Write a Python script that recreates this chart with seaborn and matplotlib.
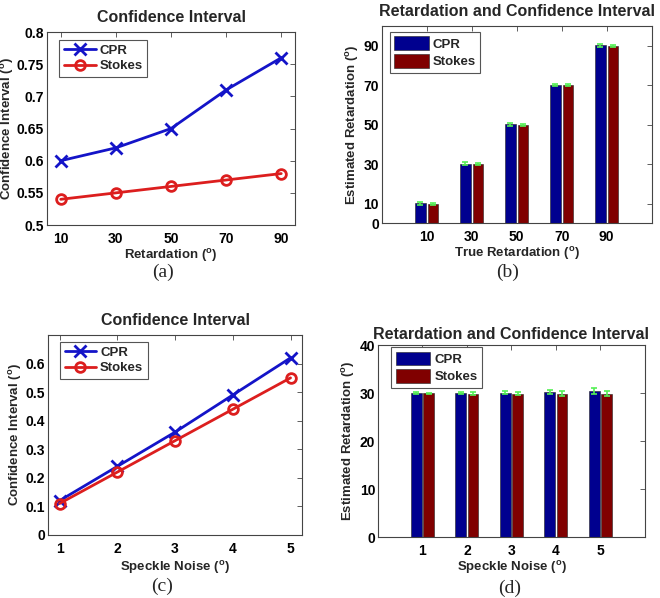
import seaborn as sns
import matplotlib.pyplot as plt
import pandas as pd

# (a) confidence interval vs retardation
retard = [10, 30, 50, 70, 90]
ci_cpr_a = [0.60, 0.62, 0.65, 0.71, 0.76]
ci_stokes_a = [0.54, 0.55, 0.56, 0.57, 0.58]

# (b) estimated retardation vs true retardation
true_retard = ['10', '30', '50', '70', '90']
est_cpr_b = [10.1, 30.2, 50.2, 70.1, 90.1]
est_stokes_b = [9.9, 29.9, 49.9, 69.9, 89.9]

# (c) confidence interval vs speckle noise
noise = [1, 2, 3, 4, 5]
ci_cpr_c = [0.12, 0.24, 0.36, 0.49, 0.62]
ci_stokes_c = [0.11, 0.22, 0.33, 0.44, 0.55]

# (d) estimated retardation vs speckle noise
noise_cat = ['1', '2', '3', '4', '5']
est_cpr_d = [30.0, 30.05, 30.1, 30.2, 30.35]
est_stokes_d = [29.95, 29.9, 29.9, 29.9, 29.9]

sns.set_style("white")
plt.rcParams['font.family'] = ['Liberation Sans', 'DejaVu Sans']
plt.rcParams['font.weight'] = 'bold'
plt.rcParams['axes.labelweight'] = 'bold'
plt.rcParams['axes.titleweight'] = 'bold'
plt.rcParams['mathtext.fontset'] = 'custom'
plt.rcParams['mathtext.rm'] = 'Liberation Sans:bold'
plt.rcParams['mathtext.bf'] = 'Liberation Sans:bold'

LINE_BLUE = '#1414c8'
LINE_RED = '#dc1e1e'
BAR_BLUE = '#00008f'
BAR_RED = '#800000'
ERR_GREEN = '#55f055'

fig = plt.figure(figsize=(6.6, 5.98), dpi=100)
ax_a = fig.add_axes([0.0712, 0.6237, 0.3758, 0.3227])
ax_b = fig.add_axes([0.5783, 0.6266, 0.409, 0.33])
ax_c = fig.add_axes([0.0727, 0.1054, 0.385, 0.3344])
ax_d = fig.add_axes([0.5727, 0.102, 0.4045, 0.321])

deg = r' ($^{\mathbf{o}}$)'


def style_axes(ax):
    for s in ax.spines.values():
        s.set_color('#444444')
        s.set_linewidth(0.8)
    ax.tick_params(direction='in', top=True, right=True, length=3.5,
                   width=0.6, colors='#444444', labelcolor='black',
                   labelsize=10, pad=2)
    ax.tick_params(axis='x', pad=5)
    for lab in ax.get_xticklabels() + ax.get_yticklabels():
        lab.set_fontweight('bold')


def line_panel(ax, x, cpr, stokes):
    sns.lineplot(x=x, y=cpr, ax=ax, color=LINE_BLUE, lw=2, marker='x',
                 markersize=8, mew=2, mec=LINE_BLUE, label='CPR')
    sns.lineplot(x=x, y=stokes, ax=ax, color=LINE_RED, lw=2, marker='o',
                 markersize=7, mew=2, mfc='none', mec=LINE_RED, label='Stokes')


def bar_panel(ax, cats, cpr, stokes, err_cpr, err_stokes):
    df = pd.DataFrame({
        'x': cats + cats,
        'y': cpr + stokes,
        'method': ['CPR'] * len(cats) + ['Stokes'] * len(cats),
    })
    sns.barplot(data=df, x='x', y='y', hue='method', ax=ax,
                palette={'CPR': BAR_BLUE, 'Stokes': BAR_RED}, saturation=1,
                width=0.56, gap=0.15, errorbar=None,
                edgecolor='#222222', linewidth=0.4)
    for cont, errs in zip(ax.containers, [err_cpr, err_stokes]):
        xs = [p.get_x() + p.get_width() / 2 for p in cont.patches]
        ys = [p.get_height() for p in cont.patches]
        ax.errorbar(xs, ys, yerr=errs, fmt='none', ecolor=ERR_GREEN,
                    elinewidth=1.2, capsize=2.5, capthick=1.2, zorder=5)
    ax.set_xlim(-1, 5)


def legend(ax, anchor, patches=False):
    kw = dict(loc='upper left', bbox_to_anchor=anchor, borderaxespad=0,
              fancybox=False, edgecolor='#555555', framealpha=1,
              prop={'size': 9.5, 'weight': 'bold'},
              handletextpad=0.3, labelspacing=0.25, borderpad=0.35)
    if patches:
        kw.update(handlelength=2.6, handleheight=1.2)
    else:
        kw.update(handlelength=2.4)
    leg = ax.legend(**kw)
    leg.get_frame().set_linewidth(0.8)


# (a)
line_panel(ax_a, retard, ci_cpr_a, ci_stokes_a)
ax_a.set_xlim(5, 95)
ax_a.set_ylim(0.5, 0.8)
ax_a.set_xticks(retard)
ax_a.set_yticks([0.5, 0.55, 0.6, 0.65, 0.7, 0.75, 0.8])
ax_a.set_yticklabels(['0.5', '0.55', '0.6', '0.65', '0.7', '0.75', '0.8'])
ax_a.set_title('Confidence Interval', fontsize=11.5, pad=7)
ax_a.set_xlabel('Retardation' + deg, fontsize=9.5, labelpad=0.5)
ax_a.set_ylabel('Confidence Interval' + deg, fontsize=9.5, labelpad=1)
legend(ax_a, (0.05, 0.96))
style_axes(ax_a)

# (b)
bar_panel(ax_b, true_retard, est_cpr_b, est_stokes_b, ci_cpr_a, ci_stokes_a)
ax_b.set_ylim(0, 100)
ax_b.set_yticks([0, 10, 30, 50, 70, 90])
ax_b.set_title('Retardation and Confidence Interval', fontsize=11.5, pad=7)
ax_b.set_xlabel('True Retardation' + deg, fontsize=9.5, labelpad=0.5)
ax_b.set_ylabel('Estimated Retardation' + deg, fontsize=9.5, labelpad=2)
legend(ax_b, (0.03, 0.97), patches=True)
style_axes(ax_b)

# (c)
line_panel(ax_c, noise, ci_cpr_c, ci_stokes_c)
ax_c.set_xlim(0.8, 5.2)
ax_c.set_ylim(0, 0.7)
ax_c.set_xticks(noise)
ax_c.set_yticks([0, 0.1, 0.2, 0.3, 0.4, 0.5, 0.6])
ax_c.set_yticklabels(['0', '0.1', '0.2', '0.3', '0.4', '0.5', '0.6'])
ax_c.set_title('Confidence Interval', fontsize=11.5, pad=7)
ax_c.set_xlabel('Speckle Noise' + deg, fontsize=9.5, labelpad=2)
ax_c.set_ylabel('Confidence Interval' + deg, fontsize=9.5, labelpad=1)
legend(ax_c, (0.047, 0.965))
style_axes(ax_c)

# (d)
bar_panel(ax_d, noise_cat, est_cpr_d, est_stokes_d, ci_cpr_c, ci_stokes_c)
ax_d.set_ylim(0, 40)
ax_d.set_yticks([0, 10, 20, 30, 40])
ax_d.set_title('Retardation and Confidence Interval', fontsize=11.5, pad=4)
ax_d.set_xlabel('Speckle Noise' + deg, fontsize=9.5, labelpad=1)
ax_d.set_ylabel('Estimated Retardation' + deg, fontsize=9.5, labelpad=2)
legend(ax_d, (0.05, 0.99), patches=True)
style_axes(ax_d)

# panel letters
serif = ['Liberation Serif', 'DejaVu Serif']
for txt, x, y in [('(a)', 163, 272), ('(b)', 508, 272),
                  ('(c)', 162, 586), ('(d)', 510, 588)]:
    fig.text(x / 660, 1 - y / 598, txt, ha='center', va='center',
             fontsize=14, family=serif, fontweight='normal')

fig.savefig('out.png', dpi=100)
